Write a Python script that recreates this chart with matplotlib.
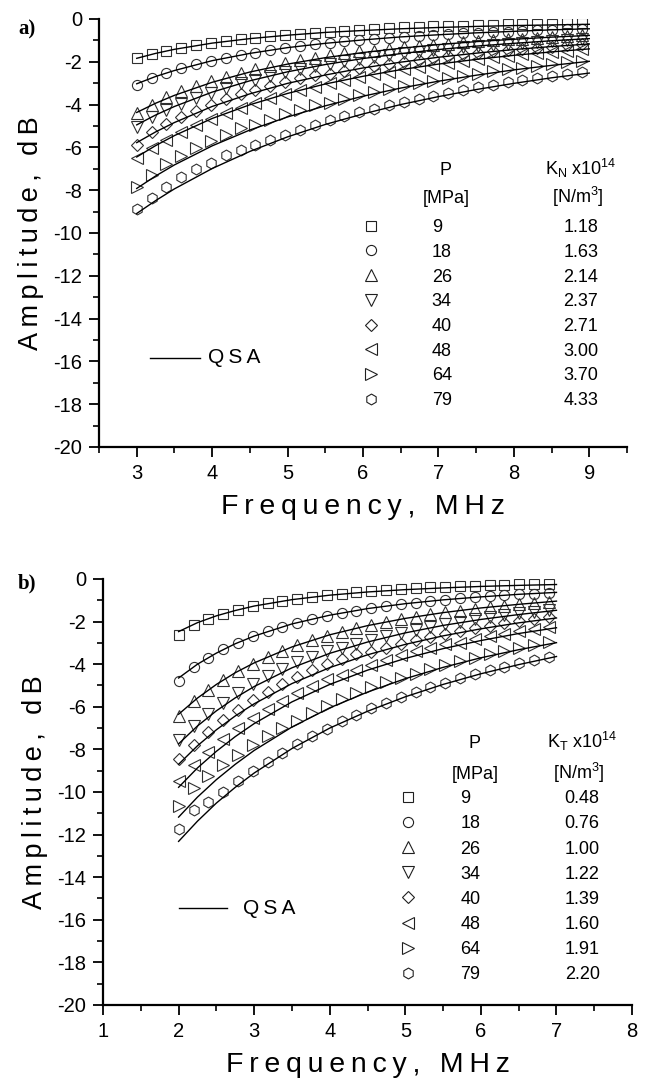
import matplotlib
matplotlib.use("Agg")
import matplotlib.pyplot as plt
from matplotlib.ticker import MultipleLocator

plt.rcParams['font.family'] = ['Liberation Sans', 'DejaVu Sans']
plt.rcParams['axes.unicode_minus'] = False
plt.rcParams['mathtext.fontset'] = 'custom'
plt.rcParams['mathtext.rm'] = 'Liberation Sans'
plt.rcParams['mathtext.it'] = 'Liberation Sans:italic'
plt.rcParams['mathtext.bf'] = 'Liberation Sans:bold'

# ---------------- data ----------------
pressure_mpa = [9, 18, 26, 34, 40, 48, 64, 79]
kn_labels = ["1.18", "1.63", "2.14", "2.37", "2.71", "3.00", "3.70", "4.33"]
kt_labels = ["0.48", "0.76", "1.00", "1.22", "1.39", "1.60", "1.91", "2.20"]

# (a) normal stiffness: measured spectra
freq_a = [3.00, 3.20, 3.39, 3.59, 3.79, 3.98, 4.18, 4.38, 4.57, 4.77, 4.97,
          5.16, 5.36, 5.56, 5.75, 5.95, 6.15, 6.34, 6.54, 6.74, 6.93, 7.13,
          7.33, 7.52, 7.72, 7.92, 8.11, 8.31, 8.51, 8.70, 8.90]
meas_a_9 = [-1.84, -1.65, -1.50, -1.36, -1.24, -1.14, -1.04, -0.96, -0.89, -0.82, -0.76,
            -0.71, -0.66, -0.62, -0.57, -0.50, -0.46, -0.43, -0.40, -0.37, -0.35, -0.33,
            -0.31, -0.29, -0.27, -0.26, -0.24, -0.23, -0.22, -0.20, -0.19]
meas_a_18 = [-3.08, -2.75, -2.53, -2.31, -2.12, -1.96, -1.81, -1.68, -1.57, -1.46, -1.36,
             -1.27, -1.19, -1.12, -1.05, -0.99, -0.93, -0.88, -0.83, -0.79, -0.75, -0.71,
             -0.68, -0.65, -0.61, -0.59, -0.56, -0.54, -0.51, -0.49, -0.47]
meas_a_26 = [-4.40, -4.00, -3.65, -3.37, -3.12, -2.90, -2.69, -2.51, -2.35, -2.19, -2.05,
             -1.92, -1.81, -1.70, -1.60, -1.51, -1.48, -1.41, -1.33, -1.27, -1.21, -1.15,
             -1.10, -1.05, -1.00, -0.96, -0.92, -0.88, -0.84, -0.80, -0.77]
meas_a_34 = [-5.07, -4.60, -4.26, -3.96, -3.68, -3.44, -3.22, -3.01, -2.83, -2.65, -2.49,
             -2.35, -2.22, -2.09, -1.98, -1.88, -1.78, -1.69, -1.61, -1.53, -1.46, -1.39,
             -1.32, -1.27, -1.21, -1.16, -1.11, -1.06, -1.02, -0.98, -0.94]
meas_a_40 = [-5.89, -5.27, -4.92, -4.59, -4.28, -4.02, -3.76, -3.53, -3.32, -3.12, -2.94,
             -2.78, -2.62, -2.55, -2.43, -2.31, -2.20, -2.10, -2.00, -1.91, -1.82, -1.74,
             -1.66, -1.59, -1.52, -1.46, -1.40, -1.34, -1.29, -1.24, -1.19]
meas_a_48 = [-6.49, -6.02, -5.65, -5.29, -4.96, -4.68, -4.40, -4.15, -3.93, -3.71, -3.51,
             -3.33, -3.16, -3.00, -2.85, -2.71, -2.58, -2.46, -2.35, -2.24, -2.15, -2.05,
             -1.96, -1.88, -1.80, -1.73, -1.66, -1.60, -1.53, -1.48, -1.42]
meas_a_64 = [-7.86, -7.30, -6.79, -6.40, -6.04, -5.71, -5.40, -5.11, -4.95, -4.70, -4.46,
             -4.25, -4.04, -3.92, -3.74, -3.57, -3.41, -3.27, -3.12, -3.00, -2.88, -2.77,
             -2.66, -2.55, -2.45, -2.36, -2.27, -2.18, -2.10, -2.03, -1.95]
meas_a_79 = [-8.89, -8.35, -7.87, -7.40, -7.02, -6.72, -6.38, -6.12, -5.89, -5.66, -5.40,
             -5.17, -4.94, -4.72, -4.53, -4.33, -4.20, -4.04, -3.87, -3.72, -3.58, -3.44,
             -3.30, -3.18, -3.07, -2.95, -2.85, -2.75, -2.65, -2.56, -2.47]

# (a) QSA model curves
freq_qsa_a = [3.0, 3.25, 3.5, 4.0, 4.5, 5.0, 5.5, 6.0, 6.5, 7.0, 7.5, 8.0, 8.5, 9.0]
qsa_a_9 = [-1.84, -1.61, -1.42, -1.13, -0.92, -0.76, -0.63, -0.54, -0.46, -0.40, -0.35, -0.31, -0.28, -0.25]
qsa_a_18 = [-3.03, -2.69, -2.41, -1.95, -1.61, -1.34, -1.14, -0.98, -0.84, -0.74, -0.65, -0.58, -0.51, -0.46]
qsa_a_26 = [-4.37, -3.94, -3.57, -2.96, -2.48, -2.11, -1.81, -1.57, -1.37, -1.20, -1.06, -0.95, -0.85, -0.77]
qsa_a_34 = [-4.95, -4.49, -4.09, -3.42, -2.89, -2.47, -2.13, -1.85, -1.62, -1.43, -1.27, -1.14, -1.02, -0.92]
qsa_a_40 = [-5.78, -5.28, -4.84, -4.09, -3.50, -3.01, -2.62, -2.29, -2.02, -1.79, -1.60, -1.43, -1.29, -1.17]
qsa_a_48 = [-6.45, -5.92, -5.45, -4.65, -4.01, -3.48, -3.04, -2.68, -2.37, -2.11, -1.89, -1.70, -1.54, -1.40]
qsa_a_64 = [-7.92, -7.34, -6.82, -5.93, -5.19, -4.58, -4.06, -3.61, -3.23, -2.91, -2.63, -2.38, -2.17, -1.98]
qsa_a_79 = [-9.09, -8.49, -7.94, -6.99, -6.19, -5.51, -4.93, -4.44, -4.00, -3.63, -3.30, -3.01, -2.75, -2.53]

# (b) tangential stiffness: measured spectra
freq_b = [2.00, 2.20, 2.39, 2.59, 2.78, 2.98, 3.18, 3.37, 3.57, 3.76, 3.96, 4.16, 4.35,
          4.55, 4.74, 4.94, 5.14, 5.33, 5.53, 5.72, 5.92, 6.12, 6.31, 6.51, 6.70, 6.90]
meas_b_9 = [-2.63, -2.15, -1.88, -1.64, -1.45, -1.29, -1.15, -1.03, -0.93, -0.84, -0.76, -0.69, -0.63,
            -0.57, -0.52, -0.48, -0.44, -0.40, -0.37, -0.34, -0.31, -0.29, -0.27, -0.25, -0.23, -0.22]
meas_b_18 = [-4.80, -4.12, -3.70, -3.31, -2.99, -2.70, -2.45, -2.24, -2.05, -1.88, -1.73, -1.59, -1.48,
             -1.37, -1.28, -1.19, -1.11, -1.04, -0.97, -0.91, -0.86, -0.81, -0.76, -0.72, -0.69, -0.65]
meas_b_26 = [-6.45, -5.73, -5.22, -4.74, -4.34, -3.97, -3.64, -3.36, -3.10, -2.88, -2.66, -2.47, -2.31,
             -2.15, -2.02, -1.89, -1.77, -1.66, -1.57, -1.48, -1.39, -1.32, -1.25, -1.18, -1.13, -1.07]
meas_b_34 = [-7.57, -6.91, -6.34, -5.81, -5.36, -4.93, -4.55, -4.23, -3.92, -3.65, -3.39, -3.26, -3.05,
             -2.86, -2.69, -2.53, -2.38, -2.24, -2.11, -2.00, -1.89, -1.79, -1.70, -1.61, -1.53, -1.46]
meas_b_40 = [-8.45, -7.79, -7.20, -6.63, -6.15, -5.70, -5.29, -4.93, -4.59, -4.29, -4.01, -3.75, -3.52,
             -3.42, -3.23, -3.04, -2.87, -2.71, -2.57, -2.43, -2.31, -2.19, -2.08, -1.98, -1.88, -1.79]
meas_b_48 = [-9.48, -8.74, -8.12, -7.53, -7.02, -6.54, -6.10, -5.71, -5.34, -5.02, -4.71, -4.52, -4.27,
             -4.02, -3.80, -3.59, -3.39, -3.22, -3.05, -2.99, -2.84, -2.70, -2.58, -2.46, -2.35, -2.24]
meas_b_64 = [-10.68, -9.82, -9.27, -8.75, -8.26, -7.80, -7.38, -7.01, -6.66, -6.31, -5.97, -5.65, -5.37,
             -5.09, -4.84, -4.67, -4.44, -4.24, -4.04, -3.87, -3.69, -3.52, -3.38, -3.23, -3.10, -2.97]
meas_b_79 = [-11.75, -10.85, -10.48, -10.00, -9.49, -9.01, -8.57, -8.18, -7.76, -7.39, -7.03, -6.68, -6.38,
             -6.08, -5.82, -5.55, -5.31, -5.09, -4.87, -4.67, -4.47, -4.29, -4.12, -3.96, -3.81, -3.66]

# (b) QSA model curves
freq_qsa_b = [2.0, 2.25, 2.5, 2.75, 3.0, 3.5, 4.0, 4.5, 5.0, 5.5, 6.0, 6.5, 7.0]
qsa_b_9 = [-2.47, -2.05, -1.73, -1.48, -1.27, -0.97, -0.76, -0.61, -0.50, -0.42, -0.35, -0.30, -0.26]
qsa_b_18 = [-4.65, -4.00, -3.48, -3.04, -2.68, -2.11, -1.70, -1.39, -1.16, -0.98, -0.84, -0.72, -0.63]
qsa_b_26 = [-6.35, -5.59, -4.95, -4.40, -3.94, -3.19, -2.62, -2.19, -1.85, -1.58, -1.36, -1.19, -1.04]
qsa_b_34 = [-7.74, -6.90, -6.19, -5.58, -5.05, -4.17, -3.49, -2.96, -2.53, -2.18, -1.90, -1.67, -1.47]
qsa_b_40 = [-8.70, -7.83, -7.08, -6.43, -5.86, -4.91, -4.16, -3.56, -3.07, -2.67, -2.34, -2.06, -1.83]
qsa_b_48 = [-9.78, -8.87, -8.09, -7.40, -6.79, -5.77, -4.95, -4.28, -3.73, -3.27, -2.89, -2.56, -2.29]
qsa_b_64 = [-11.18, -10.24, -9.42, -8.70, -8.05, -6.95, -6.05, -5.31, -4.68, -4.15, -3.70, -3.32, -2.99]
qsa_b_79 = [-12.32, -11.37, -10.52, -9.78, -9.11, -7.96, -7.00, -6.21, -5.53, -4.95, -4.45, -4.02, -3.64]

meas_a = [meas_a_9, meas_a_18, meas_a_26, meas_a_34, meas_a_40, meas_a_48, meas_a_64, meas_a_79]
qsa_a = [qsa_a_9, qsa_a_18, qsa_a_26, qsa_a_34, qsa_a_40, qsa_a_48, qsa_a_64, qsa_a_79]
meas_b = [meas_b_9, meas_b_18, meas_b_26, meas_b_34, meas_b_40, meas_b_48, meas_b_64, meas_b_79]
qsa_b = [qsa_b_9, qsa_b_18, qsa_b_26, qsa_b_34, qsa_b_40, qsa_b_48, qsa_b_64, qsa_b_79]

# ---------------- style ----------------
marker_shapes = ['s', 'o', '^', 'v', 'D', '<', '>', 'h']
marker_sizes = [6.6, 7.3, 8.6, 8.6, 5.9, 8.6, 8.6, 7.8]
edge_col = '#303030'
THIN = '\u2009'


def spaced(s):
    return THIN.join(s)


def style_axes(ax, xlim, xmajor):
    ax.set_xlim(*xlim)
    ax.set_ylim(-20, 0)
    ax.spines['top'].set_visible(False)
    ax.spines['right'].set_visible(False)
    for sp in ('left', 'bottom'):
        ax.spines[sp].set_linewidth(1.6)
    ax.xaxis.set_major_locator(MultipleLocator(xmajor))
    ax.xaxis.set_minor_locator(MultipleLocator(0.5))
    ax.yaxis.set_major_locator(MultipleLocator(2))
    ax.yaxis.set_minor_locator(MultipleLocator(1))
    ax.tick_params(which='major', direction='out', length=7, width=1.3,
                   labelsize=14.5, pad=5)
    ax.tick_params(which='minor', direction='out', length=4, width=1.2)
    ax.text(0.5, -0.14, spaced('Frequency, MHz'), transform=ax.transAxes,
            ha='center', va='center', fontsize=20.5)
    ax.text(-0.128, 0.5, spaced('Amplitude, dB'), transform=ax.transAxes,
            ha='center', va='center', rotation=90, fontsize=19.5)


def draw_panel(ax, freq, meas, freq_line, lines):
    for i in range(len(meas)):
        ax.plot(freq, meas[i], linestyle='none', marker=marker_shapes[i],
                ms=marker_sizes[i], mfc='none', mec=edge_col, mew=0.8, zorder=2)
        ax.plot(freq_line, lines[i], color='black', lw=1.0, zorder=3)


def draw_key(ax, k_labels, k_sym, x_mark, x_p, x_k, y_head, y_unit, y_row0, dy,
             qsa_x0, qsa_x1, qsa_y, qsa_tx):
    fs = 13
    ax.text(x_p + 0.05, y_head, 'P', ha='center', va='baseline', fontsize=fs)
    ax.text(x_k, y_head, r'K$_{\rm %s}$ x10$^{14}$' % k_sym, ha='center',
            va='baseline', fontsize=fs)
    ax.text(x_p + 0.05, y_unit, '[MPa]', ha='center', va='baseline', fontsize=fs)
    ax.text(x_k - 0.05, y_unit, r'[N/m$^{3}$]', ha='center', va='baseline', fontsize=fs)
    for i in range(len(k_labels)):
        yc = y_row0 - i * dy
        ax.plot([x_mark], [yc], linestyle='none', marker=marker_shapes[i],
                ms=marker_sizes[i] * 1.0, mfc='none', mec='#202020', mew=0.8,
                clip_on=False)
        ax.text(x_p - 0.14, yc - 0.3, str(pressure_mpa[i]), ha='left',
                va='baseline', fontsize=fs)
        ax.text(x_k, yc - 0.3, k_labels[i], ha='center', va='baseline', fontsize=fs)
    ax.plot([qsa_x0, qsa_x1], [qsa_y, qsa_y], color='black', lw=1.0)
    ax.text(qsa_tx, qsa_y, spaced('QSA'), ha='left', va='center', fontsize=15)


fig = plt.figure(figsize=(6.48, 10.82), dpi=100)
ax_a = fig.add_axes([0.1528, 0.5869, 0.8148, 0.3956])
ax_b = fig.add_axes([0.1590, 0.0712, 0.8164, 0.3937])

draw_panel(ax_a, freq_a, meas_a, freq_qsa_a, qsa_a)
style_axes(ax_a, (2.5, 9.5), 1)
draw_key(ax_a, kn_labels, 'N', x_mark=6.106, x_p=7.05, x_k=8.89,
         y_head=-7.28, y_unit=-8.60, y_row0=-9.66, dy=1.155,
         qsa_x0=3.18, qsa_x1=3.84, qsa_y=-15.83, qsa_tx=3.95)

draw_panel(ax_b, freq_b, meas_b, freq_qsa_b, qsa_b)
style_axes(ax_b, (1, 8), 1)
draw_key(ax_b, kt_labels, 'T', x_mark=5.036, x_p=5.87, x_k=7.34,
         y_head=-7.95, y_unit=-9.40, y_row0=-10.23, dy=1.18,
         qsa_x0=2.0, qsa_x1=2.64, qsa_y=-15.45, qsa_tx=2.85)

fig.text(0.042, 0.9723, 'a)', family=['Liberation Serif', 'DejaVu Serif'],
         fontweight='bold', fontsize=15, ha='center', va='center')
fig.text(0.042, 0.4603, 'b)', family=['Liberation Serif', 'DejaVu Serif'],
         fontweight='bold', fontsize=15, ha='center', va='center')

fig.savefig('out.png', dpi=100)
